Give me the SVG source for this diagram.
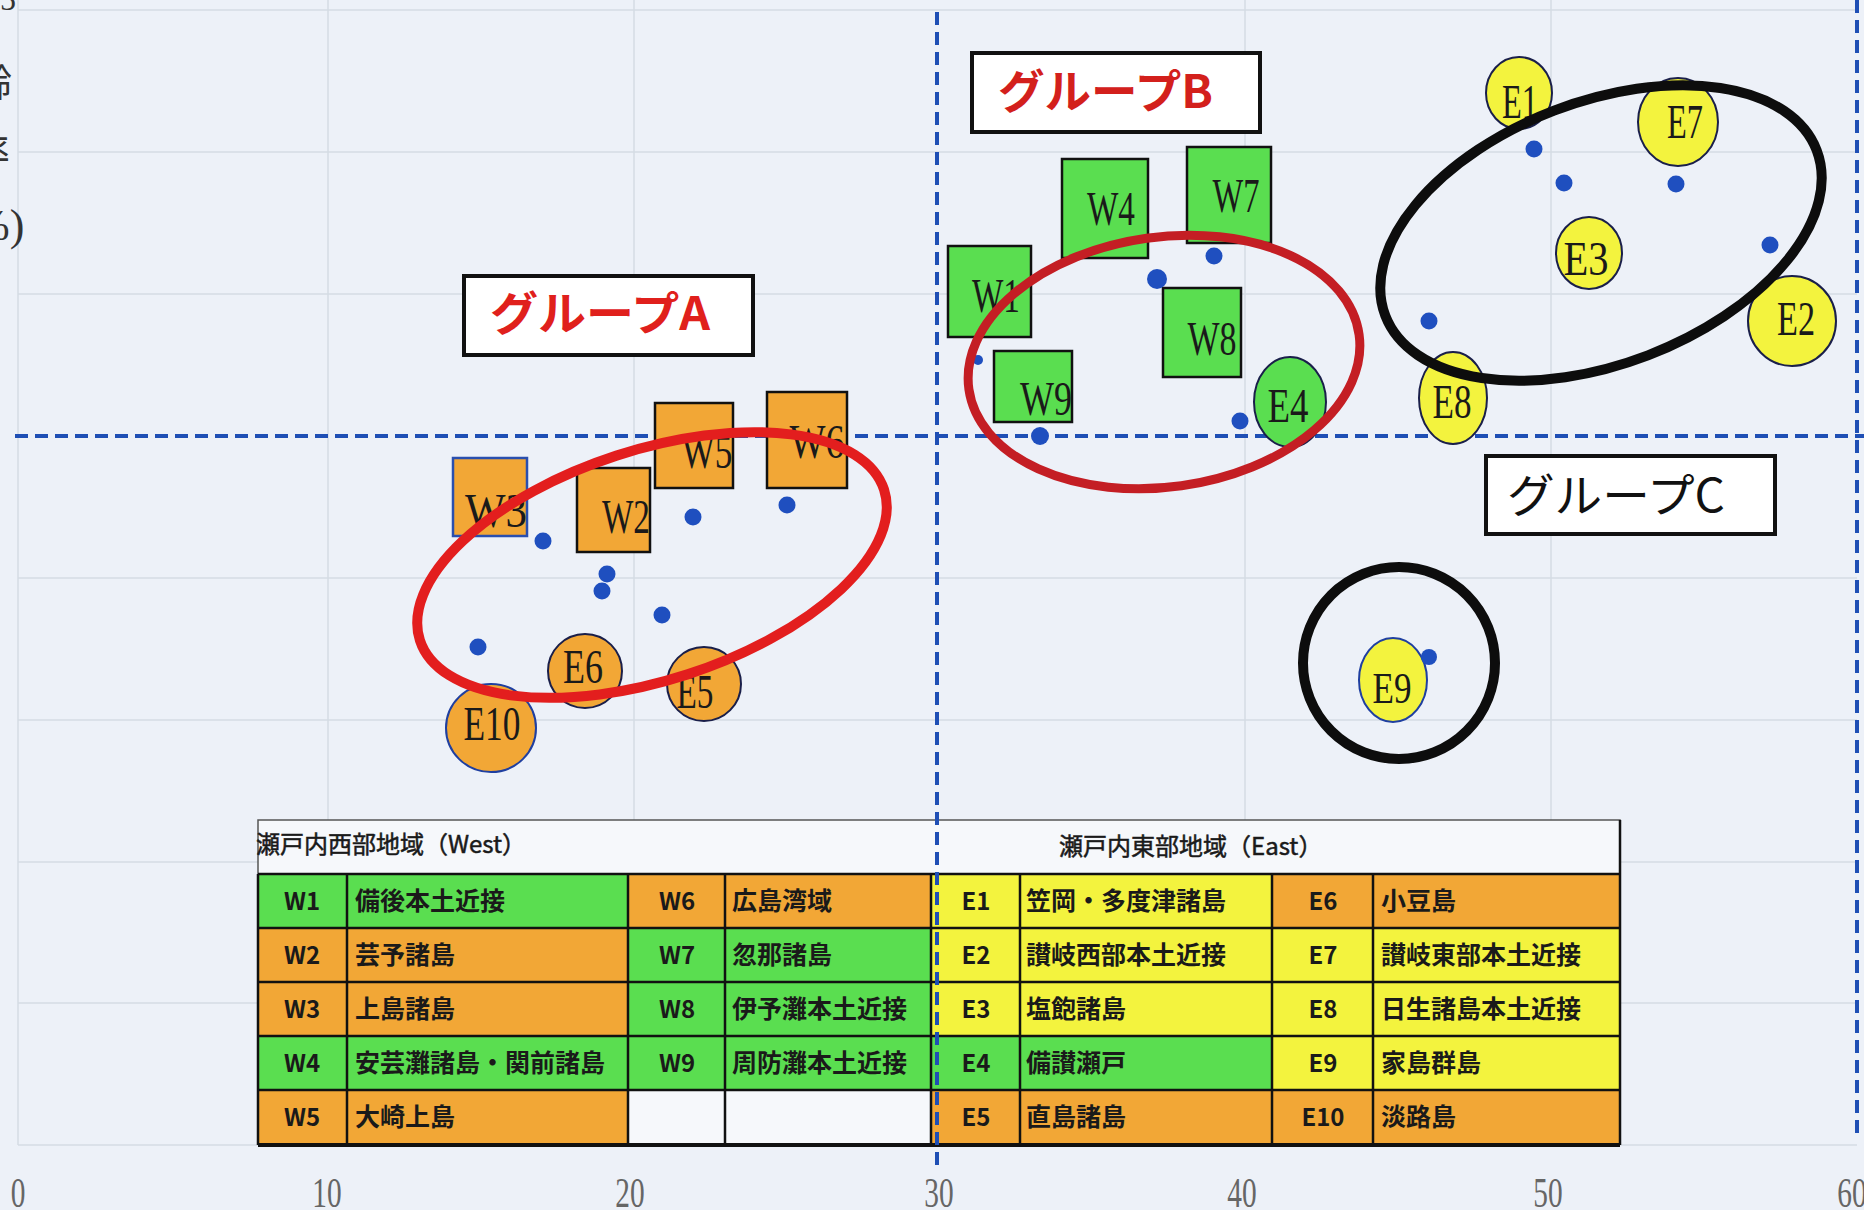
<svg xmlns="http://www.w3.org/2000/svg" width="1864" height="1210" viewBox="0 0 1864 1210">
<style>
.bg{fill:#edf1f8}
.grid{stroke:#d5dbe4;stroke-width:1.5;fill:none}
.dash{stroke:#1f4fb5;stroke-width:4;stroke-dasharray:13 7;fill:none}
.sqO{fill:#f2a736;stroke:#111;stroke-width:2.5}
.sqG{fill:#5ade50;stroke:#111;stroke-width:2.5}
.ciO{fill:#f2a736;stroke:#1a1f4a;stroke-width:2}
.ciY{fill:#f3f33e;stroke:#1a1f4a;stroke-width:2}
.ciG{fill:#5ade50;stroke:#1a1f4a;stroke-width:2}
.lbl{font-family:"Liberation Serif","Times New Roman",serif;font-size:48px;fill:#1a1a1a;text-anchor:middle}
.dot{fill:#1f4fbf}
.gbox{fill:#ffffff;stroke:#111;stroke-width:4}
.gtxt{font-family:"Noto Sans CJK JP","Noto Sans",sans-serif;font-size:46px;font-weight:bold}
.ax{font-family:"Liberation Serif",serif;font-size:42px;fill:#666;text-anchor:middle}
.yl{font-family:"Noto Sans CJK JP",sans-serif;font-size:38px;fill:#333}
.tO{fill:#f2a736}
.tG{fill:#5ade50}
.tY{fill:#f3f33e}
.tW{fill:#f6f8fb}
.tl{stroke:#111;stroke-width:2.5;fill:none}
.tc{font-family:"Noto Sans CJK JP","Noto Sans",sans-serif;font-size:24px;font-weight:bold;fill:#1a1a1a;text-anchor:middle}
.tn{font-family:"Noto Sans CJK JP","Noto Sans",sans-serif;font-size:25px;font-weight:bold;fill:#1a1a1a}
.th{font-family:"Noto Sans CJK JP","Noto Sans",sans-serif;font-size:24px;fill:#1a1a1a;stroke:#1a1a1a;stroke-width:0.5}
</style>
<rect class="bg" x="0" y="0" width="1864" height="1210"/>

<g id="gridlines">
<path class="grid" d="M18 10H1857M18 152H1857M18 294H1857M18 578H1857M18 720H1857M18 862H1857M18 1003H1857M18 1145H1857"/>
<path class="grid" d="M18 0V1145M328 0V1145M634 0V1145M1245 0V1145M1551 0V1145"/>
</g>

<g id="axis-labels">
<text class="yl" x="-26" y="96">齢</text>
<text class="yl" x="-28" y="165">率</text>
<text x="0" y="10" style="font-family:'Liberation Serif',serif;font-size:32px;fill:#333">5</text>
<text x="-27" y="240" style="font-family:'Liberation Serif',serif;font-size:44px;fill:#333">%)</text>
<text class="ax" transform="translate(18 1207) scale(0.7 1)">0</text>
<text class="ax" transform="translate(327 1207) scale(0.7 1)">10</text>
<text class="ax" transform="translate(630 1207) scale(0.7 1)">20</text>
<text class="ax" transform="translate(939 1207) scale(0.7 1)">30</text>
<text class="ax" transform="translate(1242 1207) scale(0.7 1)">40</text>
<text class="ax" transform="translate(1548 1207) scale(0.7 1)">50</text>
<text class="ax" transform="translate(1852 1207) scale(0.7 1)">60</text>
</g>

<g id="legend-table">
<rect class="tW" x="258" y="820" width="1362" height="54" stroke="#555" stroke-width="1.5"/>
<text class="th" x="256" y="853">瀬戸内西部地域（West）</text>
<text class="th" x="1059" y="855">瀬戸内東部地域（East）</text>
<rect class="tG" x="258" y="874" width="370" height="54"/>
<rect class="tO" x="258" y="928" width="370" height="54"/>
<rect class="tO" x="258" y="982" width="370" height="54"/>
<rect class="tG" x="258" y="1036" width="370" height="54"/>
<rect class="tO" x="258" y="1090" width="370" height="55"/>
<rect class="tO" x="628" y="874" width="303" height="54"/>
<rect class="tG" x="628" y="928" width="303" height="54"/>
<rect class="tG" x="628" y="982" width="303" height="54"/>
<rect class="tG" x="628" y="1036" width="303" height="54"/>
<rect class="tW" x="628" y="1090" width="303" height="55"/>
<rect class="tY" x="931" y="874" width="341" height="54"/>
<rect class="tY" x="931" y="928" width="341" height="54"/>
<rect class="tY" x="931" y="982" width="341" height="54"/>
<rect class="tG" x="931" y="1036" width="341" height="54"/>
<rect class="tO" x="931" y="1090" width="341" height="55"/>
<rect class="tO" x="1272" y="874" width="348" height="54"/>
<rect class="tY" x="1272" y="928" width="348" height="54"/>
<rect class="tY" x="1272" y="982" width="348" height="54"/>
<rect class="tY" x="1272" y="1036" width="348" height="54"/>
<rect class="tO" x="1272" y="1090" width="348" height="55"/>
<path class="tl" d="M258 874H1620M258 928H1620M258 982H1620M258 1036H1620M258 1090H1620"/>
<path class="tl" d="M258 874V1145M347 874V1145M628 874V1145M725 874V1145M931 874V1145M1020 874V1145M1272 874V1145M1373 874V1145M1620 820V1145"/>
<path d="M258 1145H1620" stroke="#111" stroke-width="4"/>
<text class="tc" x="302" y="910">W1</text><text class="tn" x="355" y="910">備後本土近接</text>
<text class="tc" x="302" y="964">W2</text><text class="tn" x="355" y="964">芸予諸島</text>
<text class="tc" x="302" y="1018">W3</text><text class="tn" x="355" y="1018">上島諸島</text>
<text class="tc" x="302" y="1072">W4</text><text class="tn" x="355" y="1072">安芸灘諸島・関前諸島</text>
<text class="tc" x="302" y="1126">W5</text><text class="tn" x="355" y="1126">大崎上島</text>
<text class="tc" x="677" y="910">W6</text><text class="tn" x="732" y="910">広島湾域</text>
<text class="tc" x="677" y="964">W7</text><text class="tn" x="732" y="964">忽那諸島</text>
<text class="tc" x="677" y="1018">W8</text><text class="tn" x="732" y="1018">伊予灘本土近接</text>
<text class="tc" x="677" y="1072">W9</text><text class="tn" x="732" y="1072">周防灘本土近接</text>
<text class="tc" x="976" y="910">E1</text><text class="tn" x="1026" y="910">笠岡・多度津諸島</text>
<text class="tc" x="976" y="964">E2</text><text class="tn" x="1026" y="964">讃岐西部本土近接</text>
<text class="tc" x="976" y="1018">E3</text><text class="tn" x="1026" y="1018">塩飽諸島</text>
<text class="tc" x="976" y="1072">E4</text><text class="tn" x="1026" y="1072">備讃瀬戸</text>
<text class="tc" x="976" y="1126">E5</text><text class="tn" x="1026" y="1126">直島諸島</text>
<text class="tc" x="1323" y="910">E6</text><text class="tn" x="1381" y="910">小豆島</text>
<text class="tc" x="1323" y="964">E7</text><text class="tn" x="1381" y="964">讃岐東部本土近接</text>
<text class="tc" x="1323" y="1018">E8</text><text class="tn" x="1381" y="1018">日生諸島本土近接</text>
<text class="tc" x="1323" y="1072">E9</text><text class="tn" x="1381" y="1072">家島群島</text>
<text class="tc" x="1323" y="1126">E10</text><text class="tn" x="1381" y="1126">淡路島</text>
</g>

<g id="quadrant-lines">
<path class="dash" d="M15 436H1864"/>
<path class="dash" d="M937 12V1170"/>
<path class="dash" d="M1857 0V1140"/>
</g>

<g id="W1"><rect class="sqG" x="948" y="246" width="83" height="91"/><text class="lbl" x="996" y="312" textLength="48" lengthAdjust="spacingAndGlyphs">W1</text></g>
<g id="W2"><rect class="sqO" x="577" y="468" width="73" height="84"/><text class="lbl" x="626" y="533" textLength="48" lengthAdjust="spacingAndGlyphs">W2</text></g>
<g id="W3"><rect class="sqO" x="453" y="458" width="74" height="78" style="stroke:#2a4fae"/><text class="lbl" x="496" y="527" textLength="62" lengthAdjust="spacingAndGlyphs">W3</text></g>
<g id="W4"><rect class="sqG" x="1062" y="159" width="86" height="99"/><text class="lbl" x="1111" y="225" textLength="48" lengthAdjust="spacingAndGlyphs">W4</text></g>
<g id="W5"><rect class="sqO" x="655" y="403" width="78" height="85"/><text class="lbl" x="707" y="468" textLength="51" lengthAdjust="spacingAndGlyphs">W5</text></g>
<g id="W6"><rect class="sqO" x="767" y="392" width="80" height="96"/><text class="lbl" x="817" y="458" textLength="55" lengthAdjust="spacingAndGlyphs">W6</text></g>
<g id="W7"><rect class="sqG" x="1187" y="147" width="84" height="96"/><text class="lbl" x="1236" y="212" textLength="47" lengthAdjust="spacingAndGlyphs">W7</text></g>
<g id="W8"><rect class="sqG" x="1163" y="288" width="78" height="89"/><text class="lbl" x="1212" y="355" textLength="49" lengthAdjust="spacingAndGlyphs">W8</text></g>
<g id="W9"><rect class="sqG" x="994" y="351" width="78" height="71"/><text class="lbl" x="1046" y="415" textLength="52" lengthAdjust="spacingAndGlyphs">W9</text></g>

<g id="E1"><ellipse class="ciY" cx="1519" cy="93" rx="33" ry="36"/><text class="lbl" x="1520" y="118" textLength="36" lengthAdjust="spacingAndGlyphs">E1</text></g>
<g id="E2"><ellipse class="ciY" cx="1792" cy="321" rx="44" ry="45"/><text class="lbl" x="1796" y="335" textLength="38" lengthAdjust="spacingAndGlyphs">E2</text></g>
<g id="E3"><ellipse class="ciY" cx="1589" cy="253" rx="33" ry="36"/><text class="lbl" x="1586" y="275" textLength="45" lengthAdjust="spacingAndGlyphs">E3</text></g>
<g id="E4"><ellipse class="ciG" cx="1290" cy="402" rx="36" ry="45"/><text class="lbl" x="1288" y="422" textLength="41" lengthAdjust="spacingAndGlyphs">E4</text></g>
<g id="E5"><ellipse class="ciO" cx="704" cy="684" rx="37" ry="37"/><text class="lbl" x="695" y="708" textLength="37" lengthAdjust="spacingAndGlyphs">E5</text></g>
<g id="E6"><ellipse class="ciO" cx="585" cy="671" rx="37" ry="37"/><text class="lbl" x="583" y="683" textLength="40" lengthAdjust="spacingAndGlyphs">E6</text></g>
<g id="E7"><ellipse class="ciY" cx="1678" cy="122" rx="40" ry="44"/><text class="lbl" x="1685" y="138" textLength="36" lengthAdjust="spacingAndGlyphs">E7</text></g>
<g id="E8"><ellipse class="ciY" cx="1453" cy="398" rx="34" ry="46"/><text class="lbl" x="1452" y="418" textLength="39" lengthAdjust="spacingAndGlyphs">E8</text></g>
<g id="E9"><ellipse class="ciY" cx="1393" cy="680" rx="34" ry="42" style="stroke:#1f3fa0"/><text class="lbl" x="1392" y="703" textLength="39" lengthAdjust="spacingAndGlyphs" style="font-size:44px">E9</text></g>
<g id="E10"><ellipse class="ciO" cx="491" cy="728" rx="45" ry="44" style="stroke:#1f3fa0"/><text class="lbl" x="492" y="740" textLength="57" lengthAdjust="spacingAndGlyphs">E10</text></g>

<g id="data-points">
<circle class="dot" cx="543" cy="541" r="8.5"/>
<circle class="dot" cx="607" cy="574" r="8.5"/>
<circle class="dot" cx="602" cy="591" r="8.5"/>
<circle class="dot" cx="693" cy="517" r="8.5"/>
<circle class="dot" cx="787" cy="505" r="8.5"/>
<circle class="dot" cx="662" cy="615" r="8.5"/>
<circle class="dot" cx="478" cy="647" r="8.5"/>
<circle class="dot" cx="1157" cy="279" r="10"/>
<circle class="dot" cx="1214" cy="256" r="8.5"/>
<circle class="dot" cx="1240" cy="421" r="8.5"/>
<circle class="dot" cx="1040" cy="436" r="9"/>
<circle class="dot" cx="978" cy="360" r="5"/>
<circle class="dot" cx="1534" cy="149" r="8.5"/>
<circle class="dot" cx="1564" cy="183" r="8.5"/>
<circle class="dot" cx="1676" cy="184" r="8.5"/>
<circle class="dot" cx="1770" cy="245" r="8.5"/>
<circle class="dot" cx="1429" cy="321" r="8.5"/>
<circle class="dot" cx="1429" cy="657" r="8"/>
</g>

<g id="connectors">
<ellipse id="groupA-ring" cx="652" cy="565" rx="244" ry="115" transform="rotate(-18 652 565)" fill="none" stroke="#e31e1e" stroke-width="10"/>
<ellipse id="groupB-ring" cx="1164" cy="362" rx="197" ry="125" transform="rotate(-8 1164 362)" fill="none" stroke="#c41e24" stroke-width="9"/>
<ellipse id="groupC-ring" cx="1601" cy="233" rx="231" ry="131" transform="rotate(-21 1601 233)" fill="none" stroke="#0d0d0d" stroke-width="10"/>
<circle id="groupC-ring2" cx="1399" cy="663" r="96" fill="none" stroke="#0d0d0d" stroke-width="10"/>
</g>

<g id="groupA"><rect class="gbox" x="464" y="276" width="289" height="79"/><text class="gtxt" x="490" y="330" fill="#e0201c" textLength="220" lengthAdjust="spacingAndGlyphs">グループA</text></g>
<g id="groupB"><rect class="gbox" x="972" y="53" width="288" height="79"/><text class="gtxt" x="998" y="108" fill="#d3201c" textLength="215" lengthAdjust="spacingAndGlyphs">グループB</text></g>
<g id="groupC"><rect class="gbox" x="1486" y="456" width="289" height="78"/><text class="gtxt" x="1507" y="512" fill="#111" style="font-weight:normal" textLength="218" lengthAdjust="spacingAndGlyphs">グループC</text></g>
</svg>
